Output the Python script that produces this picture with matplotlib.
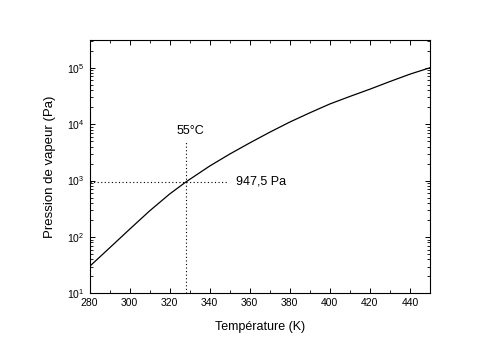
import matplotlib
matplotlib.use("Agg")
import matplotlib.pyplot as plt
from matplotlib.ticker import MultipleLocator, LogLocator

plt.rcParams['font.family'] = ['Liberation Sans', 'DejaVu Sans']
plt.rcParams['mathtext.fontset'] = 'custom'
plt.rcParams['mathtext.rm'] = 'Liberation Sans'
plt.rcParams['mathtext.it'] = 'Liberation Sans:italic'

# temperature (K) and vapour pressure (Pa)
temperature = [280, 290, 300, 310, 320, 328.15, 340, 350, 360, 370, 380,
               390, 400, 410, 420, 430, 440, 450]
pressure = [30, 64, 137, 290, 578, 947.5, 1810, 2950, 4650, 7200, 10900,
            15900, 22800, 31000, 41700, 57000, 77000, 100000]

# marked point
t_mark = 328.15
p_mark = 947.5
label_t = "55°C"
label_p = "947,5 Pa"

fig = plt.figure(figsize=(5.0, 3.51), dpi=100)
ax = fig.add_axes([0.179, 0.164, 0.681, 0.722])

ax.plot(temperature, pressure, color="black", lw=0.9)

# dotted guides
ax.plot([t_mark, t_mark], [10, 4740], color="black", lw=0.8, ls=(0, (1, 2.2)))
ax.plot([280, 348.5], [p_mark, p_mark], color="black", lw=0.8, ls=(0, (1, 2.2)))

ax.text(330.2, 7600, label_t, fontsize=9, ha="center", va="center")
ax.text(353.1, p_mark, label_p, fontsize=9, ha="left", va="center")

ax.set_yscale("log")
ax.set_xlim(280, 450)
ax.set_ylim(10, 3.1e5)

ax.xaxis.set_major_locator(MultipleLocator(20))
ax.xaxis.set_minor_locator(MultipleLocator(10))
ax.yaxis.set_major_locator(LogLocator(base=10, numticks=10))
ax.yaxis.set_minor_locator(LogLocator(base=10, subs=range(2, 10), numticks=20))

ax.tick_params(which="both", direction="in", top=True, right=True, labelsize=7.5)
ax.tick_params(which="major", length=3.5, width=0.7)
ax.tick_params(which="minor", length=2, width=0.6)
for s in ax.spines.values():
    s.set_linewidth(0.8)

ax.set_xlabel("Température (K)", fontsize=9, labelpad=9)
ax.set_ylabel("Pression de vapeur (Pa)", fontsize=9.5, labelpad=8)

fig.savefig("out.png", dpi=100)
